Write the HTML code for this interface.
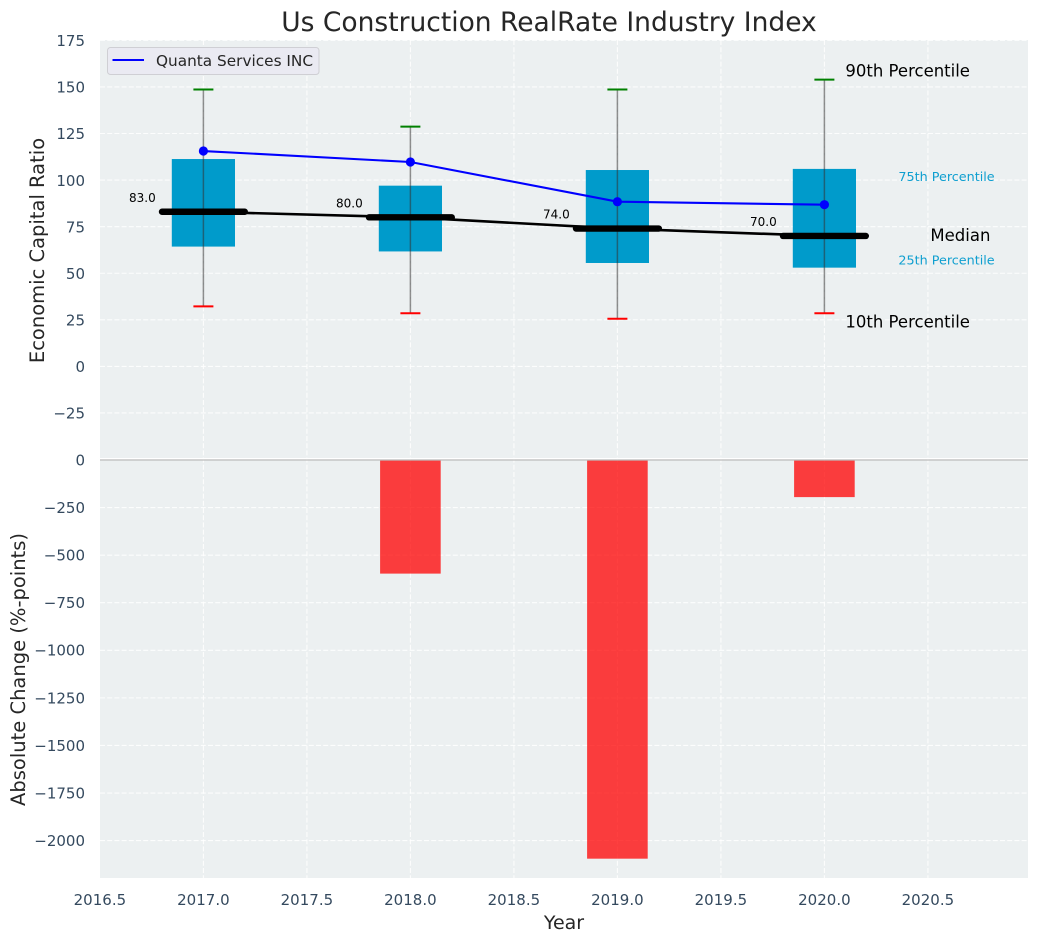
<!DOCTYPE html>
<html>
<head>
<meta charset="utf-8">
<title>Us Construction RealRate Industry Index</title>
<style>
html,body{margin:0;padding:0;background:#fff;width:1039px;height:942px;overflow:hidden}
svg{display:block}
text{font-family:"DejaVu Sans","Liberation Sans",sans-serif}
</style>
</head>
<body>
<svg id="chart" xmlns="http://www.w3.org/2000/svg" width="1039" height="942" viewBox="0 0 1039 942">
  <rect x="100" y="40" width="928" height="420" fill="#ecf0f1"/>
  <rect x="100" y="460" width="928" height="418" fill="#ecf0f1"/>
  <g id="grid"></g>
  <g id="ticks"></g>
  <g id="bars"></g>
  <line x1="100" x2="1028" y1="458.6" y2="458.6" stroke="#ffffff" stroke-width="1.2"/>
  <line x1="100" x2="1028" y1="460" y2="460" stroke="#bcbcbc" stroke-width="1.3"/>
  <g id="boxes"></g>
  <g id="annotations"></g>
  <text x="549" y="31" text-anchor="middle" font-size="26.5" fill="#262626">Us Construction RealRate Industry Index</text>
  <text transform="translate(44 250.5) rotate(-90)" text-anchor="middle" font-size="19.5" fill="#262626">Economic Capital Ratio</text>
  <text transform="translate(25 669.5) rotate(-90)" text-anchor="middle" font-size="19.5" fill="#262626">Absolute Change (%-points)</text>
  <text x="564" y="929" text-anchor="middle" font-size="19" fill="#262626">Year</text>
  <g>
    <rect x="107.5" y="47.5" width="211.5" height="27" rx="3" fill="#eaeaf2" stroke="#cfcfd4" stroke-width="1"/>
    <line x1="112.5" x2="144" y1="60" y2="60" stroke="#0000ff" stroke-width="2"/>
    <text x="156" y="66" font-size="15.3" fill="#262626">Quanta Services INC</text>
  </g>
</svg>
<script>
var years = [2017, 2018, 2019, 2020];
var p90 = [148.6, 128.7, 148.6, 153.9];
var p75 = [111.3, 97, 105.4, 106];
var medians = [83, 80, 74, 70];
var p25 = [64.3, 61.7, 55.5, 53];
var p10 = [32.2, 28.5, 25.6, 28.5];
var company = [115.6, 109.7, 88.4, 86.8];
var changeYears = [2018, 2019, 2020];
var changes = [-597, -2095, -195];
var xTicks = [2016.5, 2017, 2017.5, 2018, 2018.5, 2019, 2019.5, 2020, 2020.5];
var upperTicks = [175, 150, 125, 100, 75, 50, 25, 0, -25];
var lowerTicks = [0, -250, -500, -750, -1000, -1250, -1500, -1750, -2000];

var SVGNS = 'http://www.w3.org/2000/svg';
function xS(v) { return 99.9 + (v - 2016.5) * 207; }
function yU(v) { return 366.4 - v * 1.8632; }
function yL(v) { return 460 - v * 0.1903; }
function make(tag, parent) {
  var el = document.createElementNS(SVGNS, tag);
  parent.appendChild(el);
  return el;
}
function setLine(el, x1, y1, x2, y2, color, width) {
  el.setAttribute('x1', x1);
  el.setAttribute('y1', y1);
  el.setAttribute('x2', x2);
  el.setAttribute('y2', y2);
  el.setAttribute('stroke', color);
  el.setAttribute('stroke-width', width);
}
function setText(el, x, y, anchor, size, color, str) {
  el.setAttribute('x', x);
  el.setAttribute('y', y);
  el.setAttribute('text-anchor', anchor);
  el.setAttribute('font-size', size);
  el.setAttribute('fill', color);
  el.textContent = str;
}
function fmt(v) { return String(v).replace('-', '\u2212'); }

var gridG = document.getElementById('grid');
var ticksG = document.getElementById('ticks');
var barsG = document.getElementById('bars');
var boxesG = document.getElementById('boxes');
var annG = document.getElementById('annotations');

xTicks.forEach(function (t) {
  if (t > 2016.5) {
    var g = make('line', gridG);
    
    
    setLine(g, xS(t), 40, xS(t), 878, '#ffffff', 1.1);
    g.setAttribute('stroke-dasharray', '5 2.2');
    g.setAttribute('stroke-opacity', '0.85');
  }
  var l = make('text', ticksG);
  
  
  setText(l, xS(t), 905, 'middle', 15, '#34495e', t.toFixed(1));
});
upperTicks.forEach(function (t) {
  var g = make('line', gridG);
  
  
  setLine(g, 100, yU(t), 1028, yU(t), '#ffffff', 1.1);
  g.setAttribute('stroke-dasharray', '5 2.2');
  g.setAttribute('stroke-opacity', '0.85');
  var l = make('text', ticksG);
  
  
  setText(l, 85, yU(t) + 5.7, 'end', 15, '#34495e', fmt(t));
});
lowerTicks.forEach(function (t) {
  if (t < 0) {
    var g = make('line', gridG);
    
    
    setLine(g, 100, yL(t), 1028, yL(t), '#ffffff', 1.1);
    g.setAttribute('stroke-dasharray', '5 2.2');
    g.setAttribute('stroke-opacity', '0.85');
  }
  var l = make('text', ticksG);
  
  
  setText(l, 85, yL(t) + 5.4, 'end', 15, '#34495e', fmt(t));
});

changes.forEach(function (v, i) {
  var r = make('rect', barsG);
  
  
  r.setAttribute('x', xS(changeYears[i]) - 30.3);
  r.setAttribute('y', yL(0));
  r.setAttribute('width', 60.6);
  r.setAttribute('height', yL(v) - yL(0));
  r.setAttribute('fill', '#ff0000');
  r.setAttribute('fill-opacity', '0.75');
});

years.forEach(function (yr, i) {
  var cx = xS(yr);
  var b = make('rect', boxesG);
  
  
  b.setAttribute('x', cx - 31.6);
  b.setAttribute('y', yU(p75[i]));
  b.setAttribute('width', 63.2);
  b.setAttribute('height', yU(p25[i]) - yU(p75[i]));
  b.setAttribute('fill', '#009bcb');
  var w = make('line', boxesG);
  
  
  setLine(w, cx, yU(p90[i]), cx, yU(p10[i]), '#333333', 1.5);
  w.setAttribute('stroke-opacity', '0.55');
  var top = make('line', boxesG);
  
  
  setLine(top, cx - 10, yU(p90[i]), cx + 10, yU(p90[i]), '#008000', 2);
  var bot = make('line', boxesG);
  
  
  setLine(bot, cx - 10, yU(p10[i]), cx + 10, yU(p10[i]), '#ff0000', 2);
});

var medianLine = make('polyline', boxesG);


medianLine.setAttribute('fill', 'none');
medianLine.setAttribute('stroke', '#000000');
medianLine.setAttribute('stroke-width', '2.6');
medianLine.setAttribute('points', years.map(function (yr, i) { return xS(yr) + ',' + yU(medians[i]); }).join(' '));

years.forEach(function (yr, i) {
  var m = make('line', boxesG);
  
  
  setLine(m, xS(yr) - 41.4, yU(medians[i]), xS(yr) + 41.4, yU(medians[i]), '#000000', 6.4);
  m.setAttribute('stroke-linecap', 'round');
  var t = make('text', boxesG);
  
  
  setText(t, xS(yr) - 61, yU(medians[i]) - 10, 'middle', 12, '#000000', medians[i].toFixed(1));
});

var companyLine = make('polyline', boxesG);


companyLine.setAttribute('fill', 'none');
companyLine.setAttribute('stroke', '#0000ff');
companyLine.setAttribute('stroke-width', '2.1');
companyLine.setAttribute('points', years.map(function (yr, i) { return xS(yr) + ',' + yU(company[i]); }).join(' '));
years.forEach(function (yr, i) {
  var c = make('circle', boxesG);
  
  
  c.setAttribute('cx', xS(yr));
  c.setAttribute('cy', yU(company[i]));
  c.setAttribute('r', 4.6);
  c.setAttribute('fill', '#0000ff');
});

var last = years.length - 1;
var a90 = make('text', annG);


setText(a90, xS(years[last]) + 21, yU(p90[last]) - 3, 'start', 16.5, '#000000', '90th Percentile');
var a75 = make('text', annG);


setText(a75, xS(years[last]) + 74, yU(p75[last]) + 12, 'start', 12.75, '#0f9fd0', '75th Percentile');
var aMed = make('text', annG);


setText(aMed, xS(years[last]) + 106, yU(medians[last]) + 5, 'start', 16.5, '#000000', 'Median');
var a25 = make('text', annG);


setText(a25, xS(years[last]) + 74, yU(p25[last]) - 3, 'start', 12.75, '#0f9fd0', '25th Percentile');
var a10 = make('text', annG);


setText(a10, xS(years[last]) + 21, yU(p10[last]) + 14, 'start', 16.5, '#000000', '10th Percentile');
</script>
</body>
</html>
